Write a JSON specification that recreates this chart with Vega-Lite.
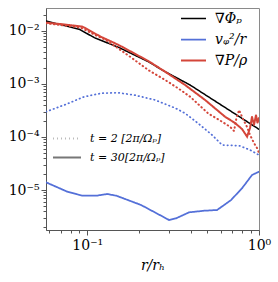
{
  "$schema": "https://vega.github.io/schema/vega-lite/v6.json",
  "width": 213,
  "height": 222,
  "autosize": {"type": "none"},
  "padding": {"left": 46, "top": 8, "right": 19, "bottom": 52},
  "config": {
    "view": {"stroke": "#8a8a8a", "strokeWidth": 1},
    "font": "DejaVu Serif"
  },
  "data": {
    "values": [
      {"r": 0.0575, "v": 0.01524, "q": "∇Φₚ", "t": "t = 30[2π/Ωₚ]"},
      {"r": 0.0716, "v": 0.01274, "q": "∇Φₚ", "t": "t = 30[2π/Ωₚ]"},
      {"r": 0.0898, "v": 0.01062, "q": "∇Φₚ", "t": "t = 30[2π/Ωₚ]"},
      {"r": 0.110, "v": 0.00738, "q": "∇Φₚ", "t": "t = 30[2π/Ωₚ]"},
      {"r": 0.1535, "v": 0.00479, "q": "∇Φₚ", "t": "t = 30[2π/Ωₚ]"},
      {"r": 0.2264, "v": 0.00261, "q": "∇Φₚ", "t": "t = 30[2π/Ωₚ]"},
      {"r": 0.284, "v": 0.00169, "q": "∇Φₚ", "t": "t = 30[2π/Ωₚ]"},
      {"r": 0.397, "v": 0.000948, "q": "∇Φₚ", "t": "t = 30[2π/Ωₚ]"},
      {"r": 1.0, "v": 0.000139, "q": "∇Φₚ", "t": "t = 30[2π/Ωₚ]"},

      {"r": 0.0575, "v": 0.000298, "q": "vᵩ²/r", "t": "t = 2  [2π/Ωₚ]"},
      {"r": 0.0735, "v": 0.000399, "q": "vᵩ²/r", "t": "t = 2  [2π/Ωₚ]"},
      {"r": 0.0961, "v": 0.000571, "q": "vᵩ²/r", "t": "t = 2  [2π/Ωₚ]"},
      {"r": 0.1206, "v": 0.000662, "q": "vᵩ²/r", "t": "t = 2  [2π/Ωₚ]"},
      {"r": 0.1494, "v": 0.000680, "q": "vᵩ²/r", "t": "t = 2  [2π/Ωₚ]"},
      {"r": 0.1876, "v": 0.000615, "q": "vᵩ²/r", "t": "t = 2  [2π/Ωₚ]"},
      {"r": 0.2485, "v": 0.000495, "q": "vᵩ²/r", "t": "t = 2  [2π/Ωₚ]"},
      {"r": 0.3248, "v": 0.000350, "q": "vᵩ²/r", "t": "t = 2  [2π/Ωₚ]"},
      {"r": 0.3715, "v": 0.000278, "q": "vᵩ²/r", "t": "t = 2  [2π/Ωₚ]"},
      {"r": 0.4418, "v": 0.0001803, "q": "vᵩ²/r", "t": "t = 2  [2π/Ωₚ]"},
      {"r": 0.533, "v": 0.0001086, "q": "vᵩ²/r", "t": "t = 2  [2π/Ωₚ]"},
      {"r": 0.6095, "v": 0.0000704, "q": "vᵩ²/r", "t": "t = 2  [2π/Ωₚ]"},
      {"r": 0.6966, "v": 0.0000689, "q": "vᵩ²/r", "t": "t = 2  [2π/Ωₚ]"},
      {"r": 0.775, "v": 0.0000674, "q": "vᵩ²/r", "t": "t = 2  [2π/Ωₚ]"},
      {"r": 0.8864, "v": 0.0000567, "q": "vᵩ²/r", "t": "t = 2  [2π/Ωₚ]"},
      {"r": 1.0, "v": 0.0000456, "q": "vᵩ²/r", "t": "t = 2  [2π/Ωₚ]"},

      {"r": 0.0575, "v": 0.00001396, "q": "vᵩ²/r", "t": "t = 30[2π/Ωₚ]"},
      {"r": 0.0765, "v": 0.00000929, "q": "vᵩ²/r", "t": "t = 30[2π/Ωₚ]"},
      {"r": 0.0935, "v": 0.00000781, "q": "vᵩ²/r", "t": "t = 30[2π/Ωₚ]"},
      {"r": 0.1128, "v": 0.00000781, "q": "vᵩ²/r", "t": "t = 30[2π/Ωₚ]"},
      {"r": 0.1307, "v": 0.00000841, "q": "vᵩ²/r", "t": "t = 30[2π/Ωₚ]"},
      {"r": 0.1475, "v": 0.00000781, "q": "vᵩ²/r", "t": "t = 30[2π/Ωₚ]"},
      {"r": 0.206, "v": 0.00000521, "q": "vᵩ²/r", "t": "t = 30[2π/Ωₚ]"},
      {"r": 0.2997, "v": 0.00000272, "q": "vᵩ²/r", "t": "t = 30[2π/Ωₚ]"},
      {"r": 0.329, "v": 0.00000293, "q": "vᵩ²/r", "t": "t = 30[2π/Ωₚ]"},
      {"r": 0.3917, "v": 0.0000038, "q": "vᵩ²/r", "t": "t = 30[2π/Ωₚ]"},
      {"r": 0.4788, "v": 0.00000407, "q": "vᵩ²/r", "t": "t = 30[2π/Ωₚ]"},
      {"r": 0.570, "v": 0.0000042, "q": "vᵩ²/r", "t": "t = 30[2π/Ωₚ]"},
      {"r": 0.6875, "v": 0.00000648, "q": "vᵩ²/r", "t": "t = 30[2π/Ωₚ]"},
      {"r": 0.796, "v": 0.00001076, "q": "vᵩ²/r", "t": "t = 30[2π/Ωₚ]"},
      {"r": 0.9106, "v": 0.00001916, "q": "vᵩ²/r", "t": "t = 30[2π/Ωₚ]"},
      {"r": 1.0, "v": 0.0000221, "q": "vᵩ²/r", "t": "t = 30[2π/Ωₚ]"},

      {"r": 0.0575, "v": 0.01378, "q": "∇P/ρ", "t": "t = 2  [2π/Ωₚ]"},
      {"r": 0.0735, "v": 0.01254, "q": "∇P/ρ", "t": "t = 2  [2π/Ωₚ]"},
      {"r": 0.0910, "v": 0.01148, "q": "∇P/ρ", "t": "t = 2  [2π/Ωₚ]"},
      {"r": 0.1113, "v": 0.00829, "q": "∇P/ρ", "t": "t = 2  [2π/Ωₚ]"},
      {"r": 0.1256, "v": 0.00689, "q": "∇P/ρ", "t": "t = 2  [2π/Ωₚ]"},
      {"r": 0.1494, "v": 0.00479, "q": "∇P/ρ", "t": "t = 2  [2π/Ωₚ]"},
      {"r": 0.1828, "v": 0.00302, "q": "∇P/ρ", "t": "t = 2  [2π/Ωₚ]"},
      {"r": 0.2264, "v": 0.00182, "q": "∇P/ρ", "t": "t = 2  [2π/Ωₚ]"},
      {"r": 0.284, "v": 0.00118, "q": "∇P/ρ", "t": "t = 2  [2π/Ωₚ]"},
      {"r": 0.338, "v": 0.000823, "q": "∇P/ρ", "t": "t = 2  [2π/Ωₚ]"},
      {"r": 0.397, "v": 0.000571, "q": "∇P/ρ", "t": "t = 2  [2π/Ωₚ]"},
      {"r": 0.505, "v": 0.000278, "q": "∇P/ρ", "t": "t = 2  [2π/Ωₚ]"},
      {"r": 0.6095, "v": 0.000193, "q": "∇P/ρ", "t": "t = 2  [2π/Ωₚ]"},
      {"r": 0.678, "v": 0.0001556, "q": "∇P/ρ", "t": "t = 2  [2π/Ωₚ]"},
      {"r": 0.7155, "v": 0.0001291, "q": "∇P/ρ", "t": "t = 2  [2π/Ωₚ]"},
      {"r": 0.735, "v": 0.000208, "q": "∇P/ρ", "t": "t = 2  [2π/Ωₚ]"},
      {"r": 0.765, "v": 0.000321, "q": "∇P/ρ", "t": "t = 2  [2π/Ωₚ]"},
      {"r": 0.807, "v": 0.0002173, "q": "∇P/ρ", "t": "t = 2  [2π/Ωₚ]"},
      {"r": 0.852, "v": 0.0001538, "q": "∇P/ρ", "t": "t = 2  [2π/Ωₚ]"},
      {"r": 0.8864, "v": 0.0001087, "q": "∇P/ρ", "t": "t = 2  [2π/Ωₚ]"},
      {"r": 0.935, "v": 0.0000768, "q": "∇P/ρ", "t": "t = 2  [2π/Ωₚ]"},
      {"r": 0.9737, "v": 0.0000618, "q": "∇P/ρ", "t": "t = 2  [2π/Ωₚ]"},
      {"r": 1.0, "v": 0.0000498, "q": "∇P/ρ", "t": "t = 2  [2π/Ωₚ]"},

      {"r": 0.0575, "v": 0.01416, "q": "∇P/ρ", "t": "t = 30[2π/Ωₚ]"},
      {"r": 0.0735, "v": 0.01310, "q": "∇P/ρ", "t": "t = 30[2π/Ωₚ]"},
      {"r": 0.0939, "v": 0.01189, "q": "∇P/ρ", "t": "t = 30[2π/Ωₚ]"},
      {"r": 0.1191, "v": 0.00778, "q": "∇P/ρ", "t": "t = 30[2π/Ωₚ]"},
      {"r": 0.1535, "v": 0.00531, "q": "∇P/ρ", "t": "t = 30[2π/Ωₚ]"},
      {"r": 0.2264, "v": 0.00269, "q": "∇P/ρ", "t": "t = 30[2π/Ωₚ]"},
      {"r": 0.284, "v": 0.00169, "q": "∇P/ρ", "t": "t = 30[2π/Ωₚ]"},
      {"r": 0.3715, "v": 0.000948, "q": "∇P/ρ", "t": "t = 30[2π/Ωₚ]"},
      {"r": 0.4855, "v": 0.000495, "q": "∇P/ρ", "t": "t = 30[2π/Ωₚ]"},
      {"r": 0.634, "v": 0.000240, "q": "∇P/ρ", "t": "t = 30[2π/Ωₚ]"},
      {"r": 0.7245, "v": 0.000183, "q": "∇P/ρ", "t": "t = 30[2π/Ωₚ]"},
      {"r": 0.796, "v": 0.000141, "q": "∇P/ρ", "t": "t = 30[2π/Ωₚ]"},
      {"r": 0.852, "v": 0.000101, "q": "∇P/ρ", "t": "t = 30[2π/Ωₚ]"},
      {"r": 0.8864, "v": 0.000147, "q": "∇P/ρ", "t": "t = 30[2π/Ωₚ]"},
      {"r": 0.9106, "v": 0.000240, "q": "∇P/ρ", "t": "t = 30[2π/Ωₚ]"},
      {"r": 0.935, "v": 0.0001675, "q": "∇P/ρ", "t": "t = 30[2π/Ωₚ]"},
      {"r": 0.9607, "v": 0.000258, "q": "∇P/ρ", "t": "t = 30[2π/Ωₚ]"},
      {"r": 0.980, "v": 0.000183, "q": "∇P/ρ", "t": "t = 30[2π/Ωₚ]"},
      {"r": 1.0, "v": 0.000227, "q": "∇P/ρ", "t": "t = 30[2π/Ωₚ]"}
    ]
  },
  "mark": {"type": "line", "strokeCap": "round", "clip": true},
  "encoding": {
    "x": {
      "field": "r",
      "type": "quantitative",
      "scale": {"type": "log", "domain": [0.0575, 1], "nice": false},
      "axis": {
        "title": "r/rₕ",
        "titleFont": "DejaVu Serif",
        "titleFontStyle": "italic",
        "titleFontWeight": "normal",
        "titleFontSize": 14,
        "titleColor": "#000",
        "titlePadding": 6,
        "values": [0.06, 0.07, 0.08, 0.09, 0.1, 0.2, 0.3, 0.4, 0.5, 0.6, 0.7, 0.8, 0.9, 1],
        "labelExpr": "abs(log(datum.value)/LN10 - round(log(datum.value)/LN10)) < 0.01 ? ({'-1':'10⁻¹','0':'10⁰'}[''+round(log(datum.value)/LN10)]) : ''",
        "labelFont": "DejaVu Serif",
        "labelFontSize": 14,
        "labelColor": "#000",
        "labelPadding": 3,
        "labelFlush": false,
        "labelOverlap": false,
        "grid": false,
        "domainColor": "#555",
        "tickColor": "#555",
        "tickSize": {"condition": {"test": "abs(log(datum.value)/LN10 - round(log(datum.value)/LN10)) < 0.01", "value": 5}, "value": 3}
      }
    },
    "y": {
      "field": "v",
      "type": "quantitative",
      "scale": {"type": "log", "domain": [0.000001766, 0.02673], "nice": false},
      "axis": {
        "title": null,
        "values": [0.000002, 0.000003, 0.000004, 0.000005, 0.000006, 0.000007, 0.000008, 0.000009,
                   0.00001, 0.00002, 0.00003, 0.00004, 0.00005, 0.00006, 0.00007, 0.00008, 0.00009,
                   0.0001, 0.0002, 0.0003, 0.0004, 0.0005, 0.0006, 0.0007, 0.0008, 0.0009,
                   0.001, 0.002, 0.003, 0.004, 0.005, 0.006, 0.007, 0.008, 0.009,
                   0.01, 0.02],
        "labelExpr": "abs(log(datum.value)/LN10 - round(log(datum.value)/LN10)) < 0.01 ? ({'-2':'10⁻²','-3':'10⁻³','-4':'10⁻⁴','-5':'10⁻⁵'}[''+round(log(datum.value)/LN10)]) : ''",
        "labelFont": "DejaVu Serif",
        "labelFontSize": 14,
        "labelColor": "#000",
        "labelPadding": 2,
        "labelOverlap": false,
        "labelFlush": false,
        "grid": false,
        "domainColor": "#555",
        "tickColor": "#555",
        "tickSize": {"condition": {"test": "abs(log(datum.value)/LN10 - round(log(datum.value)/LN10)) < 0.01", "value": 5}, "value": 3}
      }
    },
    "color": {
      "field": "q",
      "type": "nominal",
      "scale": {"domain": ["∇Φₚ", "vᵩ²/r", "∇P/ρ"], "range": ["#000000", "#5470d8", "#d4463a"]},
      "legend": {
        "orient": "none",
        "legendX": 134,
        "legendY": 0,
        "title": null,
        "padding": 0,
        "symbolType": "stroke",
        "symbolSize": 625,
        "symbolStrokeWidth": 2,
        "labelFont": "DejaVu Serif",
        "labelFontStyle": "italic",
        "labelFontSize": 14,
        "labelColor": "#000",
        "labelOffset": 8,
        "rowPadding": 0,
        "clipHeight": 21
      }
    },
    "strokeDash": {
      "field": "t",
      "type": "nominal",
      "scale": {"domain": ["t = 2  [2π/Ωₚ]", "t = 30[2π/Ωₚ]"], "range": [[0.5, 3.5], [1, 0]]},
      "legend": {
        "orient": "none",
        "legendX": 6,
        "legendY": 121,
        "title": null,
        "padding": 0,
        "symbolType": "stroke",
        "symbolSize": 784,
        "symbolStrokeWidth": 2,
        "symbolStrokeColor": "#777",
        "labelFont": "DejaVu Serif",
        "labelFontStyle": "italic",
        "labelFontSize": 11,
        "labelColor": "#000",
        "labelOffset": 8,
        "rowPadding": 0,
        "clipHeight": 19
      }
    },
    "strokeWidth": {
      "field": "q",
      "type": "nominal",
      "scale": {"domain": ["∇Φₚ", "vᵩ²/r", "∇P/ρ"], "range": [1.5, 2, 2]},
      "legend": null
    }
  }
}
